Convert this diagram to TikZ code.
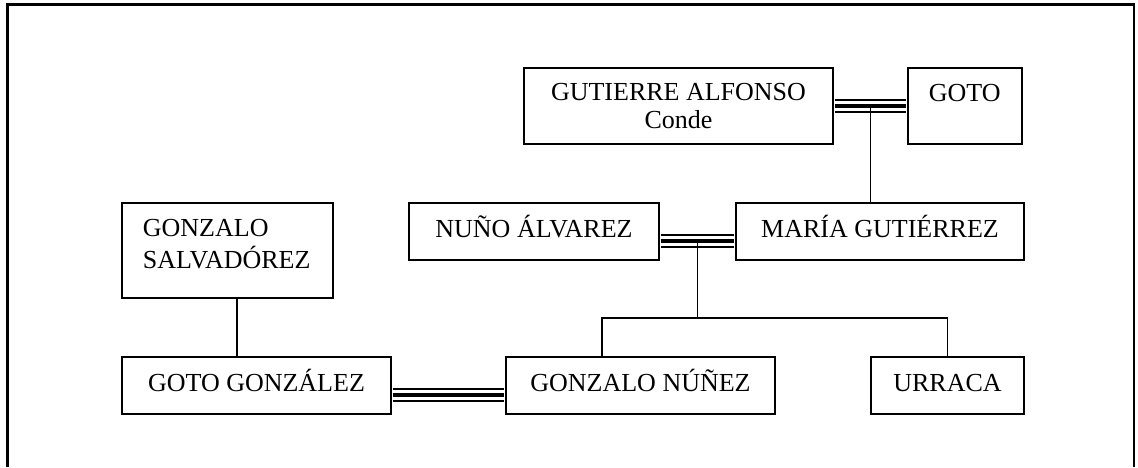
\documentclass[tikz,border=0pt]{standalone}
\usepackage{fontspec}
\setmainfont{Liberation Serif}
\usetikzlibrary{calc}

\tikzstyle{kinbox} = [
    draw,
    line width=1.6pt,
    rectangle,
    inner sep=0pt
    ]
\tikzstyle{kinname} = [
    kinbox,
    text height=17pt,
    text depth=6pt
    ]
\tikzstyle{toplabel} = [
    anchor=north west,
    align=left,
    inner sep=0pt,
    xshift=21.5pt,
    yshift=-16.5pt
    ]
\tikzstyle{wedding} = [
    line width=14pt,
    shorten <=0.8pt,
    shorten >=0.8pt,
    postaction={draw, white, line width=10pt},
    postaction={draw, black, line width=4pt}
    ]
\tikzstyle{descent} = [line width=1.5pt]

\begin{document}
\begin{tikzpicture}[x=1pt, y=-1pt, font=\fontsize{26}{28}\selectfont]
\useasboundingbox (0,0) rectangle (1138,467);
% frame
\draw[line width=3pt] (7.5,467) -- (7.5,4.5) -- (1135,4.5);
\draw[line width=1.2pt] (1134,4.5) -- (1134,467);

% grandparents
\node [kinbox, align=center, minimum width=309pt, minimum height=76pt] (gutierre) at (678.5,106)
    {GUTIERRE ALFONSO\\Conde};
\node [kinbox, minimum width=114pt, minimum height=76pt,
    label={[toplabel]north west:GOTO}] (goto) at (965,106) {};

% parents
\node [kinname, minimum width=250pt, minimum height=57pt] (nuno) at (534,231.5) {NUÑO ÁLVAREZ};
\node [kinname, minimum width=288pt, minimum height=57pt] (maria) at (880,231.5) {MARÍA GUTIÉRREZ};
\node [kinbox, minimum width=211pt, minimum height=95pt,
    label={[toplabel, font=\fontsize{26}{32}\selectfont]north west:GONZALO\\SALVADÓREZ}] (salvad) at (227.5,250.5) {};

% children
\node [kinname, minimum width=269pt, minimum height=57pt] (gotog) at (256.5,385.5) {GOTO GONZÁLEZ};
\node [kinname, minimum width=269pt, minimum height=57pt] (gnunez) at (640.5,385.5) {GONZALO NÚÑEZ};
\node [kinname, minimum width=153pt, minimum height=57pt] (urraca) at (947.5,385.5) {URRACA};

% marriages
\draw[wedding] (gutierre.east) -- (goto.west);
\draw[wedding] ([yshift=-9pt]nuno.east) -- ([yshift=-9pt]maria.west);
\draw[wedding] ([yshift=-9pt]gotog.east) -- ([yshift=-9pt]gnunez.west);

% descent
\coordinate (wed1) at ($(gutierre.east)!0.5!(goto.west)$);
\coordinate (wed2) at ($([yshift=-9pt]nuno.east)!0.5!([yshift=-9pt]maria.west)$);
\coordinate (sibs) at (wed2 |- 0,318);
\draw[descent] (wed1) -- (wed1 |- maria.north);
\draw[descent] (wed2) -- (sibs);
\draw[descent] ([xshift=-38.5pt]gnunez.north) |- (sibs) -| (urraca.north);
\draw[descent] ([xshift=9.5pt]salvad.south) -- ([xshift=9.5pt]salvad.south |- gotog.north);
\end{tikzpicture}
\end{document}
